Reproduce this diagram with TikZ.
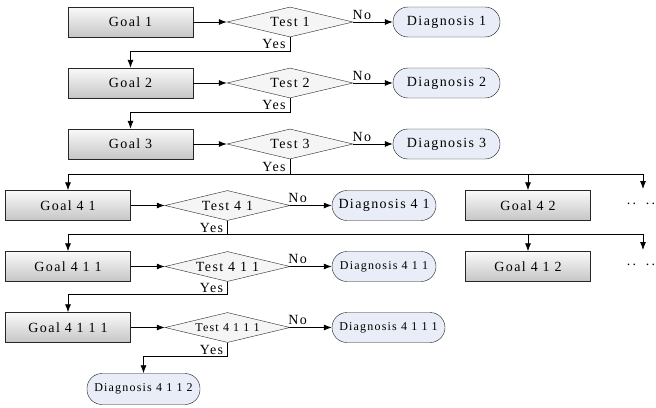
\documentclass[tikz,border=0pt]{standalone}
\usepackage{fontspec}
\setmainfont{Liberation Serif}[LetterSpace=10]
\usetikzlibrary{shapes.geometric,arrows.meta,calc}
\definecolor{diagfill}{HTML}{E8EDF7}
\newcommand\mynf{\fontsize{14}{16}\selectfont}
\newcommand\mysf{\fontsize{12}{14}\selectfont}
\begin{document}
\begin{tikzpicture}[x=1pt,y=-1pt,
  goal/.style={rectangle, draw=black!85, top color=gray!4, bottom color=gray!45, minimum width=125pt, minimum height=30pt, inner sep=0pt, font=\mynf},
  test/.style={diamond, draw=black!85, fill=gray!8, shape aspect=4.2, minimum width=126pt, minimum height=30pt, inner sep=0pt, font=\mynf},
  diag/.style={rectangle, rounded corners=15pt, draw=black!90, fill=diagfill, minimum height=30pt, inner sep=0pt, font=\mynf},
  lbl/.style={font=\mynf, inner sep=1pt},
  arr/.style={-{Latex[length=8pt,width=6pt]}, line width=0.8pt},
  ln/.style={line width=0.8pt}]
\useasboundingbox (0,0) rectangle (656,407);
% row 1
\node[goal] (g1) at (130.5,22) {Goal 1};
\node[test] (t1) at (290,22) {Test 1};
\node[diag, minimum width=107pt] (d1) at (446.5,22) {Diagnosis 1};
% row 2
\node[goal] (g2) at (130.5,83) {Goal 2};
\node[test] (t2) at (290,83) {Test 2};
\node[diag, minimum width=107pt] (d2) at (446.5,83) {Diagnosis 2};
% row 3
\node[goal] (g3) at (130.5,144) {Goal 3};
\node[test] (t3) at (290,144) {Test 3};
\node[diag, minimum width=107pt] (d3) at (446.5,144) {Diagnosis 3};
% row 4
\node[goal] (g41) at (68,205.5) {Goal 4 1};
\node[test, minimum width=125pt] (t41) at (227.5,205.5) {Test 4 1};
\node[diag, minimum width=104pt] (d41) at (384,205.5) {Diagnosis 4 1};
\node[goal] (g42) at (528,205.5) {Goal 4 2};
\node[lbl] (dots1) at (641,204) {.\,.\ \ .\,.};
\coordinate (e1) at (643,189);
% row 5
\node[goal] (g411) at (68,266.5) {Goal 4 1 1};
\node[test, minimum width=125pt] (t411) at (227.5,266.5) {Test 4 1 1};
\node[diag, minimum width=104pt, font=\mysf] (d411) at (384,266.5) {Diagnosis 4 1 1};
\node[goal] (g412) at (528,266.5) {Goal 4 1 2};
\node[lbl] (dots2) at (641,265) {.\,.\ \ .\,.};
\coordinate (e2) at (643,250);
% row 6
\node[goal] (g4111) at (68,327.5) {Goal 4 1 1 1};
\node[test, minimum width=125pt, font=\mysf] (t4111) at (227.5,327.5) {Test 4 1 1 1};
\node[diag, minimum width=113pt, font=\mysf] (d4111) at (388.5,327.5) {Diagnosis 4 1 1 1};
\node[diag, minimum width=113pt, minimum height=31pt, font=\mysf] (d4112) at (143.5,389) {Diagnosis 4 1 1 2};
% connectors rows 1-3
\foreach \i/\n in {1/2,2/3}{
  \draw[arr] (g\i.east) -- (t\i.west);
  \draw[arr] (t\i.east) -- node[lbl, above=1pt, pos=0.22]{No} (d\i.west);
  \draw[arr] (t\i.south) -- node[lbl, left=3pt]{Yes} ++(0,14) -| (g\n.north);
}
\draw[arr] (g3.east) -- (t3.west);
\draw[arr] (t3.east) -- node[lbl, above=1pt, pos=0.22]{No} (d3.west);
\draw[ln] (t3.south) -- node[lbl, left=3pt]{Yes} ++(0,15) coordinate (b3);
\draw[arr] (b3) -| (g41.north);
\draw[arr] (b3) -| (g42.north);
\draw[arr] (b3) -| (e1);
% row 4
\draw[arr] (g41.east) -- (t41.west);
\draw[arr] (t41.east) -- node[lbl, above=1pt, pos=0.18]{No} (d41.west);
\draw[ln] (t41.south) -- node[lbl, left=3pt]{Yes} ++(0,14) coordinate (b41);
\draw[arr] (b41) -| (g411.north);
\draw[arr] (b41) -| (g412.north);
\draw[arr] (b41) -| (e2);
% row 5
\draw[arr] (g411.east) -- (t411.west);
\draw[arr] (t411.east) -- node[lbl, above=1pt, pos=0.18]{No} (d411.west);
\draw[arr] (t411.south) -- node[lbl, left=3pt]{Yes} ++(0,13) -| (g4111.north);
% row 6
\draw[arr] (g4111.east) -- (t4111.west);
\draw[arr] (t4111.east) -- node[lbl, above=1pt, pos=0.18]{No} (d4111.west);
\draw[arr] (t4111.south) -- node[lbl, left=3pt]{Yes} ++(0,14) -| (d4112.north);
\end{tikzpicture}
\end{document}
